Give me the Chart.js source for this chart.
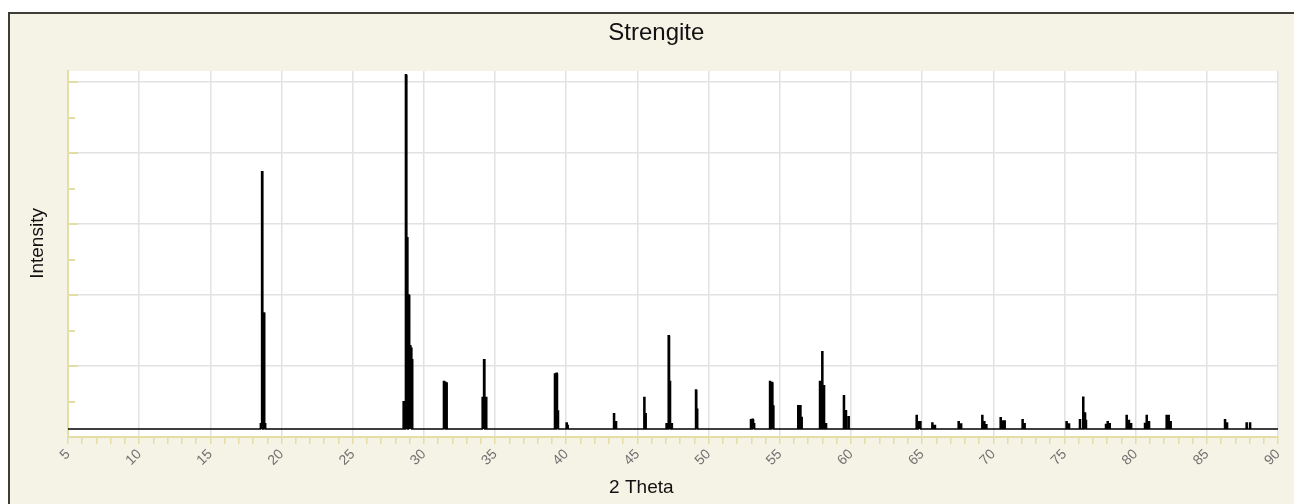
<!DOCTYPE html>
<html>
<head>
<meta charset="utf-8">
<script src="https://cdn.jsdelivr.net/npm/chart.js@4.4.1/dist/chart.umd.min.js"></script>
<style>
  body { margin: 0; background: #ffffff; }
  #frame {
    position: absolute; left: 8px; top: 12px; width: 1290px; height: 496px;
    background: #f5f2e6; border-top: 2px solid #3f3e36; border-left: 2px solid #3f3e36;
  }
  #chart { position: absolute; left: 0; top: 0; }
</style>
</head>
<body>
<div id="frame"></div>
<canvas id="chart" width="1294" height="504"></canvas>
<script>
// Peak positions (2 theta) and intensities
const peakPos = [
  18.55, 18.65, 18.77, 18.85,
  28.58, 28.74, 28.84, 28.94, 29.04, 29.12, 29.20,
  31.41, 31.50, 31.60,
  34.13, 34.25, 34.38,
  39.21, 39.33, 39.42, 40.03, 40.10,
  43.36, 43.50,
  45.49, 45.58,
  47.05, 47.20, 47.29, 47.42,
  49.12, 49.20,
  52.98, 53.10, 53.20,
  54.32, 54.46, 54.55,
  56.30, 56.45, 56.54,
  57.83, 57.99, 58.11, 58.25,
  59.51, 59.65, 59.84,
  64.62, 64.76, 64.88,
  65.72, 65.90,
  67.57, 67.74,
  69.23, 69.37, 69.51,
  70.52, 70.68, 70.80,
  72.06, 72.20,
  75.15, 75.32,
  76.09, 76.32, 76.44, 76.51,
  77.88, 78.04, 78.18,
  79.37, 79.53, 79.68,
  80.62, 80.78, 80.94,
  82.18, 82.32, 82.46,
  86.28, 86.42,
  87.80, 88.04
];
const peakInt = [
  3.7, 74.7, 34.9, 3.7,
  9.9, 102.0, 56.1, 40.0, 25.7, 25.0, 22.0,
  15.6, 15.4, 15.2,
  11.1, 21.7, 11.1,
  17.7, 17.9, 7.3, 3.9, 3.2,
  6.5, 4.3,
  11.1, 6.5,
  3.7, 28.5, 15.6, 3.7,
  13.2, 7.8,
  4.8, 5.0, 3.7,
  15.6, 15.3, 8.7,
  8.8, 8.8, 5.5,
  15.6, 24.0, 14.4, 3.7,
  11.6, 7.4, 5.7,
  6.0, 4.3, 4.3,
  3.9, 3.2,
  4.3, 3.6,
  6.0, 4.3, 3.4,
  5.4, 4.5, 4.5,
  4.8, 3.7,
  4.3, 3.6,
  4.8, 11.2, 6.7, 4.6,
  3.7, 4.3, 3.7,
  6.0, 4.6, 3.7,
  4.0, 6.0, 4.3,
  6.0, 6.0, 4.3,
  4.8, 3.9,
  3.9, 3.9
];
const baseline = 2.25;
const xMin = 5, xMax = 90;
const yGrid = [0, 20, 40, 60, 80, 100];
const yMinor = [10, 30, 50, 70, 90];

// Build the profile line: each peak as a narrow column on the baseline
const half = 0.03;
const profile = [{ x: xMin, y: baseline }];
peakPos.forEach((p, i) => {
  profile.push({ x: p - half, y: baseline });
  profile.push({ x: p - half, y: peakInt[i] });
  profile.push({ x: p + half, y: peakInt[i] });
  profile.push({ x: p + half, y: baseline });
});
profile.push({ x: xMax, y: baseline });

const axisYellow = '#e2dea6';
const gridGray = '#e2e2e2';

// White plot area and inward ticks on the y axis
const plotArea = {
  id: 'plotArea',
  beforeDraw(chart) {
    const { ctx, chartArea } = chart;
    ctx.save();
    ctx.fillStyle = '#ffffff';
    ctx.fillRect(chartArea.left, chartArea.top, chartArea.right - chartArea.left, chartArea.bottom - chartArea.top);
    ctx.restore();
  },
  afterDraw(chart) {
    const { ctx, chartArea } = chart;
    const y = chart.scales.y;
    ctx.save();
    ctx.strokeStyle = axisYellow;
    ctx.lineWidth = 2;
    yGrid.concat(yMinor).forEach(v => {
      const py = Math.round(y.getPixelForValue(v));
      const len = yGrid.includes(v) ? 10 : 7;
      ctx.beginPath();
      ctx.moveTo(chartArea.left, py);
      ctx.lineTo(chartArea.left + len, py);
      ctx.stroke();
    });
    ctx.restore();
  }
};

new Chart(document.getElementById('chart'), {
  type: 'line',
  data: {
    datasets: [{
      data: profile,
      borderColor: '#000000',
      borderWidth: 1.7,
      pointRadius: 0,
      tension: 0,
      fill: false
    }]
  },
  plugins: [plotArea],
  options: {
    responsive: false,
    animation: false,
    devicePixelRatio: 1,
    layout: { padding: { left: 8, top: 12, right: 16, bottom: 0 } },
    plugins: {
      legend: { display: false },
      tooltip: { enabled: false },
      title: {
        display: true,
        // leading spaces nudge the title right, as in the original
        text: '    Strengite',
        color: '#111111',
        font: { family: 'Liberation Sans', size: 24, weight: 'normal' },
        padding: { top: 6.6, bottom: 23.6 }
      }
    },
    scales: {
      x: {
        type: 'linear',
        min: xMin,
        max: xMax,
        afterFit(scale) { scale.height = 67; },
        ticks: {
          stepSize: 1,
          autoSkip: false,
          minRotation: 45,
          maxRotation: 45,
          padding: 2,
          color: '#707070',
          font: { family: 'Liberation Sans', size: 14 },
          callback: v => (v % 5 === 0 ? v : '')
        },
        grid: {
          color: ctx => (ctx.tick && ctx.tick.value % 5 === 0 ? gridGray : 'rgba(0,0,0,0)'),
          tickColor: axisYellow,
          tickLength: 7,
          lineWidth: 1.5
        },
        border: { color: axisYellow, width: 2 },
        title: {
          display: true,
          text: '2 Theta            ',
          color: '#111111',
          font: { family: 'Liberation Sans', size: 19 },
          padding: { top: 0, bottom: 4.6 }
        }
      },
      y: {
        min: 0,
        max: 103.1,
        afterFit(scale) { scale.width = 60; },
        afterBuildTicks(scale) { scale.ticks = yGrid.map(v => ({ value: v })); },
        ticks: { display: false },
        grid: { color: gridGray, lineWidth: 1.5, drawTicks: false },
        border: { color: axisYellow, width: 2 },
        title: {
          display: true,
          text: '    Intensity',
          color: '#111111',
          font: { family: 'Liberation Sans', size: 19 },
          padding: { top: 18.6, bottom: 0 }
        }
      }
    }
  }
});
</script>
</body>
</html>
